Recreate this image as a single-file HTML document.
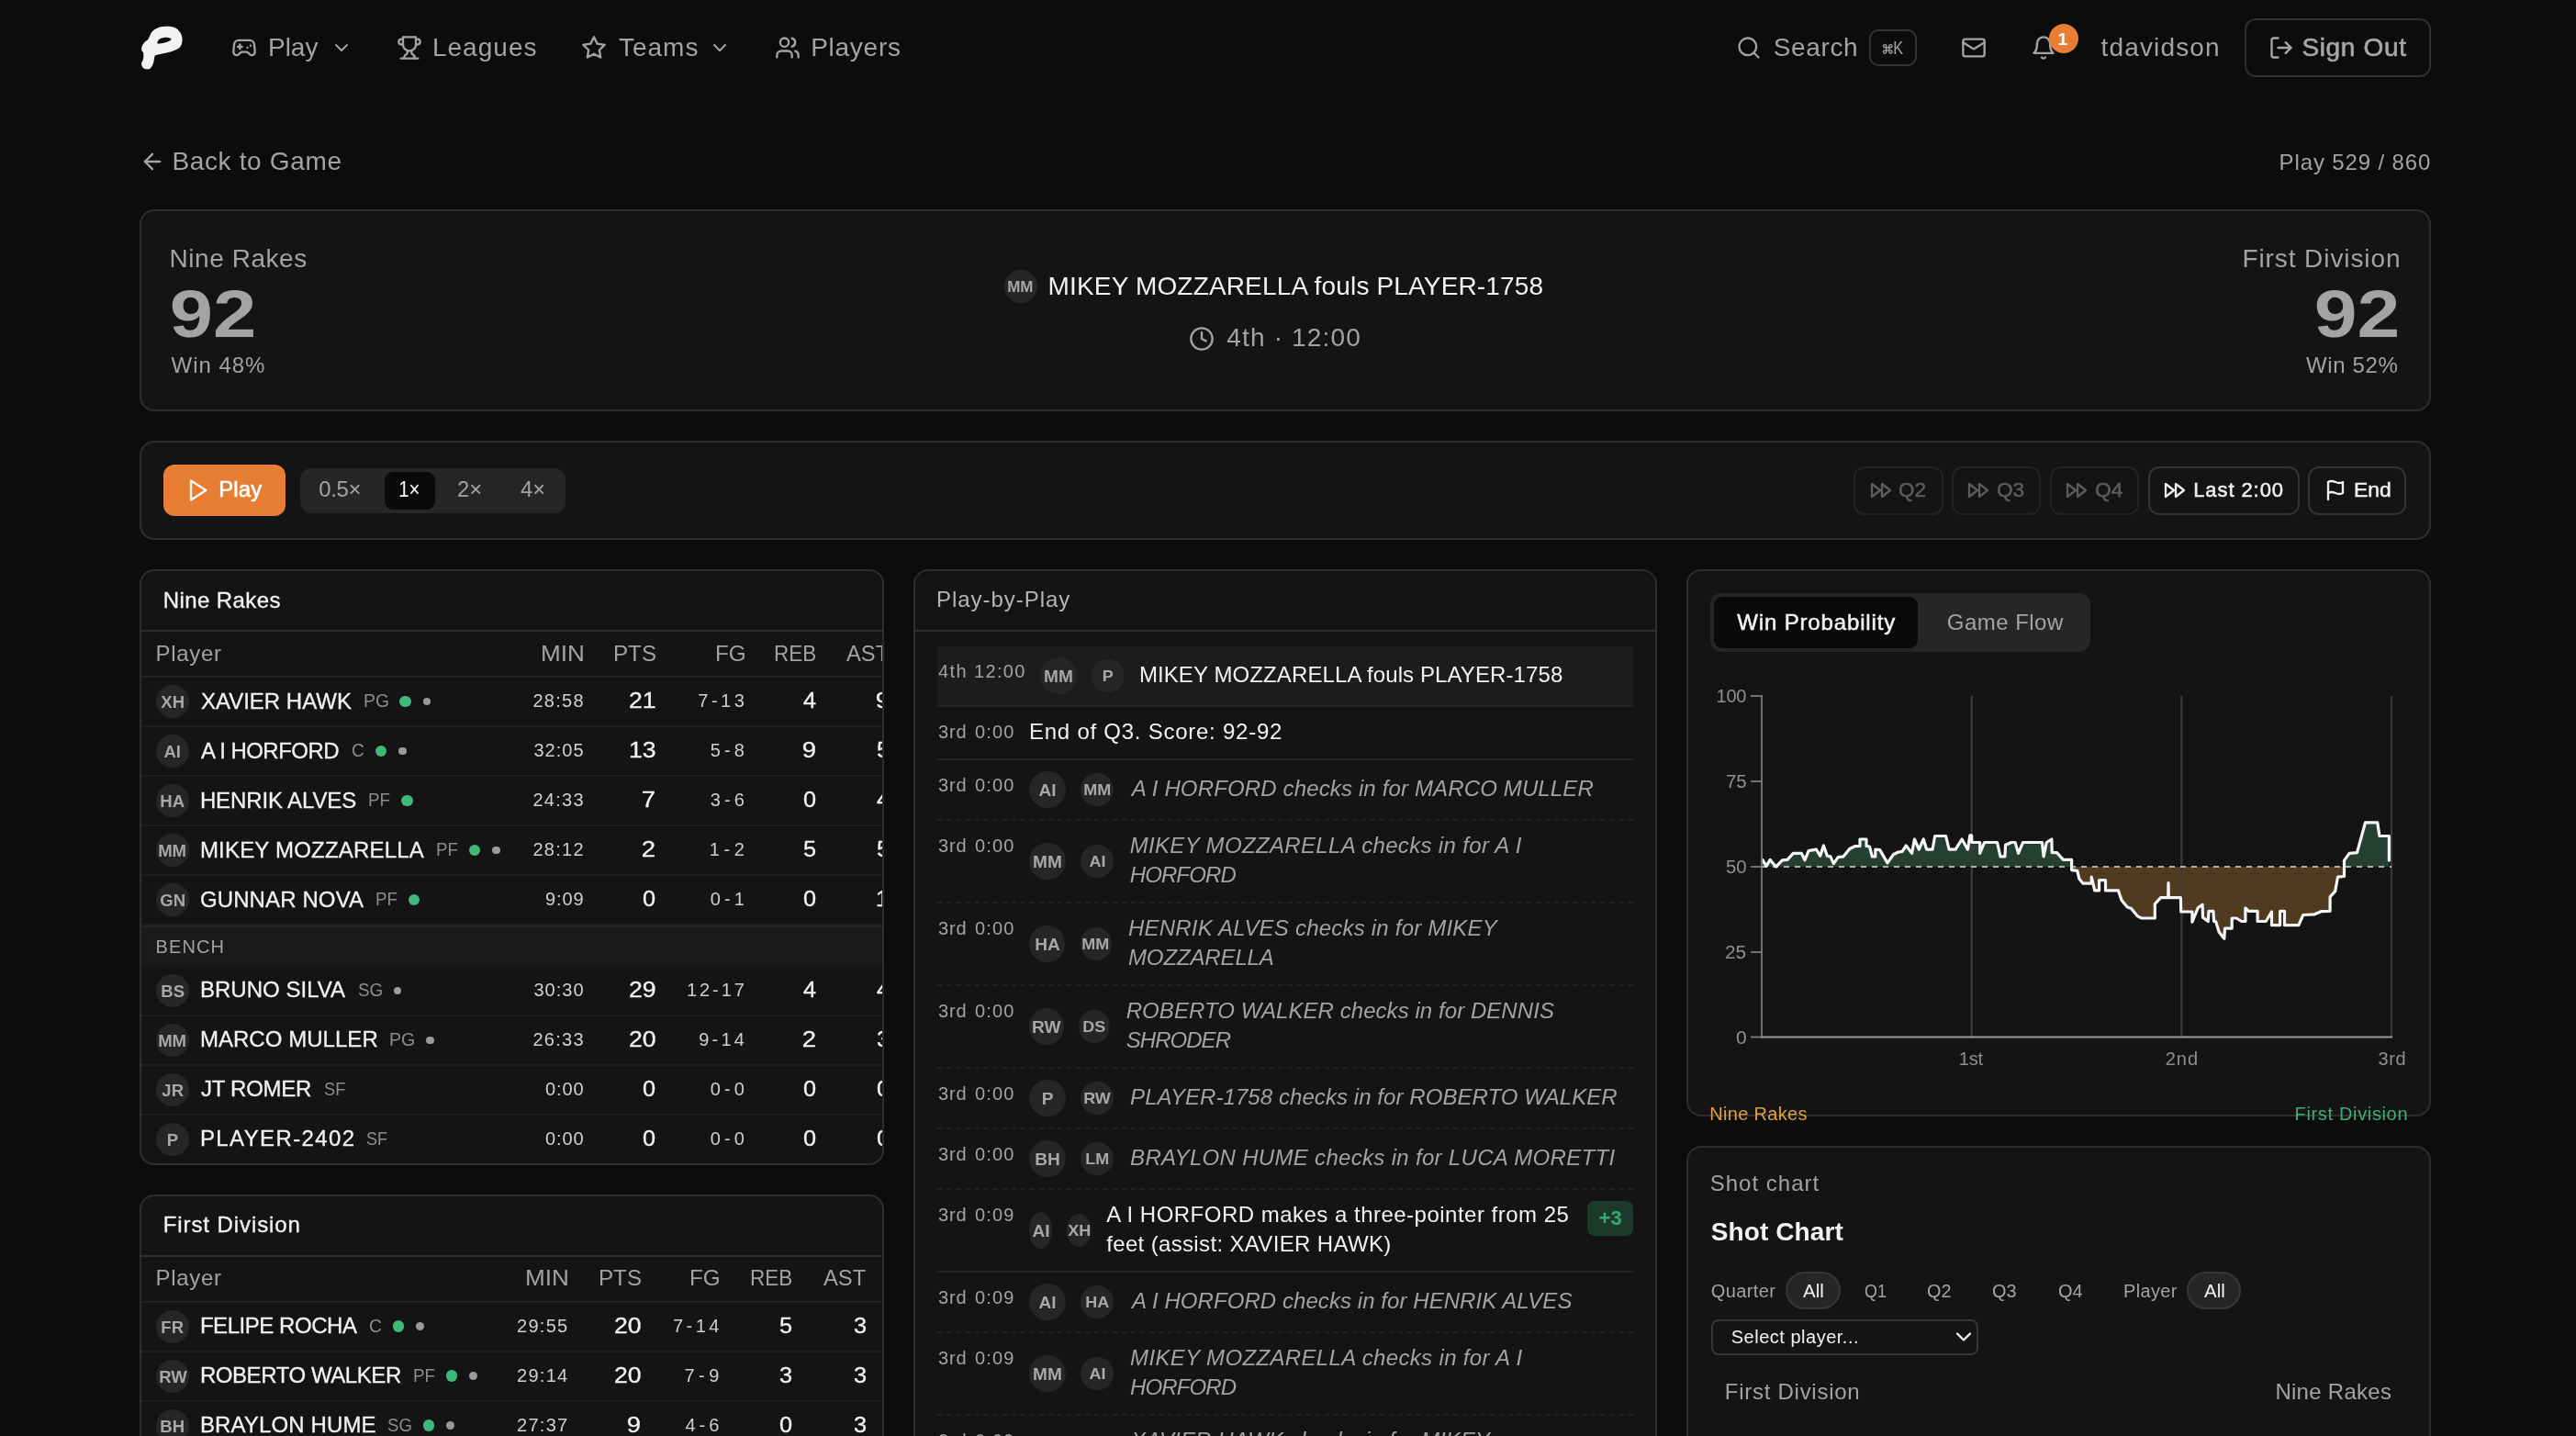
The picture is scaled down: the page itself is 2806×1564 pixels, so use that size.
<!DOCTYPE html>
<html><head><meta charset="utf-8"><title>Game Replay</title>
<style>
html,body{margin:0;padding:0;background:#0c0c0c;overflow:hidden;}
html{width:2806px;height:1564px;}
body{width:2806px;height:1564px;overflow:hidden;position:relative;font-family:"Liberation Sans", sans-serif;}
span,div{font-family:"Liberation Sans", sans-serif;}
@media (max-width:1500px){html{zoom:.5}}
</style></head><body><div style="position:absolute;left:0;top:0;width:2806px;height:1564px;overflow:hidden;will-change:transform"><svg style="position:absolute;left:140px;top:15px" width="260" height="80" viewBox="0 0 2576 793"><path fill="#f2f2f2" fill-rule="evenodd" d="M330 145 C370 132 460 130 500 150 C530 160 565 200 575 240 C585 280 580 330 555 360 C535 385 470 410 420 420 C380 430 320 440 285 450 C275 470 275 540 250 570 C240 590 225 598 215 598 C200 600 185 600 175 595 C160 590 148 575 145 565 C138 550 138 540 140 530 C145 515 158 500 160 480 C162 460 162 440 160 420 C150 410 140 400 140 390 C138 370 142 355 150 340 C160 320 170 310 180 300 C195 290 205 285 215 270 C225 250 230 235 240 215 C250 195 265 180 280 170 C295 158 315 150 330 145 Z M310 315 C312 295 325 278 340 270 C360 260 385 255 400 255 C425 255 450 260 460 270 C462 280 450 290 440 295 C420 305 400 310 380 315 C360 320 330 325 310 322 Z"/></svg><svg style="position:absolute;left:252.00px;top:38.00px" width="28" height="28" viewBox="0 0 24 24" fill="none" stroke="#a3a3a3" stroke-width="2" stroke-linecap="round" stroke-linejoin="round"><line x1="6" x2="10" y1="11" y2="11"/><line x1="8" x2="8" y1="9" y2="13"/><line x1="15" x2="15.01" y1="12" y2="12"/><line x1="18" x2="18.01" y1="10" y2="10"/><path d="M17.32 5H6.68a4 4 0 0 0-3.978 3.59c-.006.052-.01.101-.017.152C2.604 9.416 2 14.456 2 16a3 3 0 0 0 3 3c1 0 1.5-.5 2-1l1.414-1.414A2 2 0 0 1 9.828 16h4.344a2 2 0 0 1 1.414.586L17 18c.5.5 1 1 2 1a3 3 0 0 0 3-3c0-1.545-.604-6.584-.685-7.258-.007-.05-.011-.1-.017-.151A4 4 0 0 0 17.32 5z"/></svg><span style="position:absolute;top:38.10px;font-size:28px;line-height:28px;color:#a3a3a3;white-space:pre;letter-spacing:-0.023px;left:292.00px;">Play</span><svg style="position:absolute;left:360.00px;top:40.00px" width="24" height="24" viewBox="0 0 24 24" fill="none" stroke="#a3a3a3" stroke-width="2" stroke-linecap="round" stroke-linejoin="round"><path d="m6 9 6 6 6-6"/></svg><svg style="position:absolute;left:432.00px;top:38.00px" width="28" height="28" viewBox="0 0 24 24" fill="none" stroke="#a3a3a3" stroke-width="2" stroke-linecap="round" stroke-linejoin="round"><path d="M6 9H4.5a2.5 2.5 0 0 1 0-5H6"/><path d="M18 9h1.5a2.5 2.5 0 0 0 0-5H18"/><path d="M4 22h16"/><path d="M10 14.66V17c0 .55-.47.98-.97 1.21C7.85 18.75 7 20.24 7 22"/><path d="M14 14.66V17c0 .55.47.98.97 1.21C16.15 18.75 17 20.24 17 22"/><path d="M18 2H6v7a6 6 0 0 0 12 0V2Z"/></svg><span style="position:absolute;top:38.10px;font-size:28px;line-height:28px;color:#a3a3a3;white-space:pre;letter-spacing:1.028px;left:470.90px;">Leagues</span><svg style="position:absolute;left:633.30px;top:38.00px" width="28" height="28" viewBox="0 0 24 24" fill="none" stroke="#a3a3a3" stroke-width="2" stroke-linecap="round" stroke-linejoin="round"><polygon points="12 2 15.09 8.26 22 9.27 17 14.14 18.18 21.02 12 17.77 5.82 21.02 7 14.14 2 9.27 8.91 8.26 12 2"/></svg><span style="position:absolute;top:38.10px;font-size:28px;line-height:28px;color:#a3a3a3;white-space:pre;letter-spacing:1.008px;left:673.90px;">Teams</span><svg style="position:absolute;left:771.80px;top:40.00px" width="24" height="24" viewBox="0 0 24 24" fill="none" stroke="#a3a3a3" stroke-width="2" stroke-linecap="round" stroke-linejoin="round"><path d="m6 9 6 6 6-6"/></svg><svg style="position:absolute;left:844.40px;top:38.00px" width="28" height="28" viewBox="0 0 24 24" fill="none" stroke="#a3a3a3" stroke-width="2" stroke-linecap="round" stroke-linejoin="round"><path d="M16 21v-2a4 4 0 0 0-4-4H6a4 4 0 0 0-4 4v2"/><circle cx="9" cy="7" r="4"/><path d="M22 21v-2a4 4 0 0 0-3-3.87"/><path d="M16 3.13a4 4 0 0 1 0 7.75"/></svg><span style="position:absolute;top:38.10px;font-size:28px;line-height:28px;color:#a3a3a3;white-space:pre;letter-spacing:0.739px;left:883.20px;">Players</span><svg style="position:absolute;left:1891.10px;top:38.00px" width="28" height="28" viewBox="0 0 24 24" fill="none" stroke="#a3a3a3" stroke-width="2" stroke-linecap="round" stroke-linejoin="round"><circle cx="11" cy="11" r="8"/><path d="m21 21-4.3-4.3"/></svg><span style="position:absolute;top:38.10px;font-size:28px;line-height:28px;color:#a3a3a3;white-space:pre;letter-spacing:0.631px;left:1931.80px;">Search</span><div style="position:absolute;left:2036.40px;top:32.20px;width:51.40px;height:39.60px;box-sizing:border-box;border:2px solid #333;border-radius:10px;"></div><svg style="position:absolute;left:2049.6px;top:46.5px" width="12.6" height="12.6" viewBox="0 0 24 24" fill="none" stroke="#a3a3a3" stroke-width="2.6"><path d="M9 9V6a3 3 0 1 0-3 3h12a3 3 0 1 0-3-3v12a3 3 0 1 0 3-3H6a3 3 0 1 0 3 3z"/></svg><span style="position:absolute;top:42.47px;font-size:20px;line-height:20px;color:#a3a3a3;white-space:pre;transform:scaleX(0.8154);transform-origin:1.00px 0;left:2062.20px;">K</span><svg style="position:absolute;left:2136.00px;top:38.00px" width="28" height="28" viewBox="0 0 24 24" fill="none" stroke="#a3a3a3" stroke-width="2" stroke-linecap="round" stroke-linejoin="round"><rect width="20" height="16" x="2" y="4" rx="2"/><path d="m22 7-8.97 5.7a1.94 1.94 0 0 1-2.06 0L2 7"/></svg><svg style="position:absolute;left:2211.90px;top:38.00px" width="28" height="28" viewBox="0 0 24 24" fill="none" stroke="#a3a3a3" stroke-width="2" stroke-linecap="round" stroke-linejoin="round"><path d="M6 8a6 6 0 0 1 12 0c0 7 3 9 3 9H3s3-2 3-9"/><path d="M10.3 21a1.94 1.94 0 0 0 3.4 0"/></svg><div style="position:absolute;left:2232.20px;top:26.00px;width:32.20px;height:32.20px;box-sizing:border-box;background:#e87d34;border-radius:17px;"></div><span style="position:absolute;top:32.52px;font-size:19px;line-height:19px;color:#fff;white-space:pre;font-weight:700;left:2241.60px;">1</span><span style="position:absolute;top:38.10px;font-size:28px;line-height:28px;color:#a3a3a3;white-space:pre;letter-spacing:1.139px;left:2288.60px;">tdavidson</span><div style="position:absolute;left:2445.20px;top:20.00px;width:202.80px;height:64.00px;box-sizing:border-box;border:2px solid #303030;border-radius:12px;"></div><svg style="position:absolute;left:2471.30px;top:38.00px" width="28" height="28" viewBox="0 0 24 24" fill="none" stroke="#a8a8a8" stroke-width="2" stroke-linecap="round" stroke-linejoin="round"><path d="M9 21H5a2 2 0 0 1-2-2V5a2 2 0 0 1 2-2h4"/><polyline points="16 17 21 12 16 7"/><line x1="21" x2="9" y1="12" y2="12"/></svg><span style="position:absolute;top:38.10px;font-size:28px;line-height:28px;color:#a8a8a8;white-space:pre;-webkit-text-stroke:0.6px #a8a8a8;letter-spacing:0.661px;left:2507.40px;">Sign Out</span><svg style="position:absolute;left:151.60px;top:162.40px" width="28" height="28" viewBox="0 0 24 24" fill="none" stroke="#a3a3a3" stroke-width="2" stroke-linecap="round" stroke-linejoin="round"><path d="m12 19-7-7 7-7"/><path d="M19 12H5"/></svg><span style="position:absolute;top:162.20px;font-size:28px;line-height:28px;color:#a3a3a3;white-space:pre;letter-spacing:0.651px;left:187.40px;">Back to Game</span><span style="position:absolute;top:164.68px;font-size:24px;line-height:24px;color:#a3a3a3;white-space:pre;letter-spacing:0.869px;left:2482.60px;">Play 529 / 860</span><div style="position:absolute;left:152.00px;top:228.00px;width:2496.00px;height:220.00px;box-sizing:border-box;background:#141414;border:2px solid #2e2e2e;border-radius:16px;"></div><span style="position:absolute;top:268.30px;font-size:28px;line-height:28px;color:#a3a3a3;white-space:pre;letter-spacing:0.541px;left:184.60px;">Nine Rakes</span><span style="position:absolute;top:306.05px;font-size:72px;line-height:72px;color:#a3a3a3;white-space:pre;font-weight:700;transform:scaleX(1.1796);transform-origin:2.00px 0;left:184.60px;">92</span><span style="position:absolute;top:385.68px;font-size:24px;line-height:24px;color:#a3a3a3;white-space:pre;letter-spacing:0.951px;left:186.60px;">Win 48%</span><div style="position:absolute;left:1093.80px;top:294.00px;width:36px;height:36px;border-radius:50%;background:#262626;color:#a8a8a8;font-weight:700;font-size:16px;line-height:38px;display:flex;justify-content:center;white-space:nowrap"><span style="display:inline-block;transform:scaleX(1.06)">MM</span></div><span style="position:absolute;top:298.30px;font-size:28px;line-height:28px;color:#f2f2f2;white-space:pre;letter-spacing:0.158px;left:1141.60px;">MIKEY MOZZARELLA fouls PLAYER-1758</span><svg style="position:absolute;left:1294.60px;top:354.50px" width="28" height="28" viewBox="0 0 24 24" fill="none" stroke="#a3a3a3" stroke-width="2" stroke-linecap="round" stroke-linejoin="round"><circle cx="12" cy="12" r="10"/><polyline points="12 6 12 12 16 14"/></svg><span style="position:absolute;top:354.30px;font-size:28px;line-height:28px;color:#a3a3a3;white-space:pre;letter-spacing:1.170px;left:1336.30px;">4th · 12:00</span><span style="position:absolute;top:268.30px;font-size:28px;line-height:28px;color:#a3a3a3;white-space:pre;letter-spacing:0.918px;left:2442.40px;">First Division</span><span style="position:absolute;top:306.05px;font-size:72px;line-height:72px;color:#a3a3a3;white-space:pre;font-weight:700;transform:scaleX(1.1678);transform-origin:2.00px 0;left:2520.80px;">92</span><span style="position:absolute;top:385.68px;font-size:24px;line-height:24px;color:#a3a3a3;white-space:pre;letter-spacing:0.651px;left:2512.00px;">Win 52%</span><div style="position:absolute;left:152.00px;top:480.00px;width:2496.00px;height:108.00px;box-sizing:border-box;background:#141414;border:2px solid #2e2e2e;border-radius:16px;"></div><div style="position:absolute;left:178.00px;top:506.00px;width:133.00px;height:56.00px;box-sizing:border-box;background:#e87d34;border-radius:12px;"></div><svg style="position:absolute;left:200.80px;top:520.20px" width="28" height="28" viewBox="0 0 24 24" fill="none" stroke="#fff" stroke-width="2" stroke-linecap="round" stroke-linejoin="round"><polygon points="6 3 20 12 6 21 6 3"/></svg><span style="position:absolute;top:521.48px;font-size:24px;line-height:24px;color:#fff;white-space:pre;-webkit-text-stroke:0.6px #fff;letter-spacing:0.104px;left:238.20px;">Play</span><div style="position:absolute;left:327.00px;top:510.00px;width:289.00px;height:49.00px;box-sizing:border-box;background:#262626;border-radius:12px;"></div><div style="position:absolute;left:419.00px;top:514.20px;width:55.00px;height:40.60px;box-sizing:border-box;background:#0a0a0a;border-radius:9px;"></div><span style="position:absolute;top:521.48px;font-size:24px;line-height:24px;color:#a3a3a3;white-space:pre;letter-spacing:-0.388px;left:347.30px;">0.5×</span><span style="position:absolute;top:521.48px;font-size:24px;line-height:24px;color:#fff;white-space:pre;transform:scaleX(0.8482);transform-origin:1.00px 0;left:433.80px;">1×</span><span style="position:absolute;top:521.48px;font-size:24px;line-height:24px;color:#a3a3a3;white-space:pre;transform:scaleX(0.9942);transform-origin:1.00px 0;left:498.10px;">2×</span><span style="position:absolute;top:521.48px;font-size:24px;line-height:24px;color:#a3a3a3;white-space:pre;transform:scaleX(0.9906);transform-origin:0.00px 0;left:567.10px;">4×</span><div style="position:absolute;left:2019.20px;top:508.20px;width:97.40px;height:52.40px;box-sizing:border-box;border:2px solid #232323;border-radius:12px;"></div><svg style="position:absolute;left:2037.00px;top:522.40px" width="24" height="24" viewBox="0 0 24 24" fill="none" stroke="#5c5c5c" stroke-width="2.3" stroke-linecap="round" stroke-linejoin="round"><polygon points="13 19 22 12 13 5 13 19"/><polygon points="2 19 11 12 2 5 2 19"/></svg><span style="position:absolute;top:523.38px;font-size:22px;line-height:22px;color:#5c5c5c;white-space:pre;-webkit-text-stroke:0.5px #5c5c5c;transform:scaleX(1.0209);transform-origin:1.00px 0;left:2068.20px;">Q2</span><div style="position:absolute;left:2125.50px;top:508.20px;width:97.90px;height:52.40px;box-sizing:border-box;border:2px solid #232323;border-radius:12px;"></div><svg style="position:absolute;left:2143.00px;top:522.40px" width="24" height="24" viewBox="0 0 24 24" fill="none" stroke="#5c5c5c" stroke-width="2.3" stroke-linecap="round" stroke-linejoin="round"><polygon points="13 19 22 12 13 5 13 19"/><polygon points="2 19 11 12 2 5 2 19"/></svg><span style="position:absolute;top:523.38px;font-size:22px;line-height:22px;color:#5c5c5c;white-space:pre;-webkit-text-stroke:0.5px #5c5c5c;transform:scaleX(1.0316);transform-origin:1.00px 0;left:2175.00px;">Q3</span><div style="position:absolute;left:2232.60px;top:508.20px;width:97.90px;height:52.40px;box-sizing:border-box;border:2px solid #232323;border-radius:12px;"></div><svg style="position:absolute;left:2250.00px;top:522.40px" width="24" height="24" viewBox="0 0 24 24" fill="none" stroke="#5c5c5c" stroke-width="2.3" stroke-linecap="round" stroke-linejoin="round"><polygon points="13 19 22 12 13 5 13 19"/><polygon points="2 19 11 12 2 5 2 19"/></svg><span style="position:absolute;top:523.38px;font-size:22px;line-height:22px;color:#5c5c5c;white-space:pre;-webkit-text-stroke:0.5px #5c5c5c;transform:scaleX(1.0458);transform-origin:1.00px 0;left:2281.60px;">Q4</span><div style="position:absolute;left:2339.50px;top:508.20px;width:165.70px;height:52.40px;box-sizing:border-box;border:2px solid #333;border-radius:12px;"></div><svg style="position:absolute;left:2356.80px;top:522.40px" width="24" height="24" viewBox="0 0 24 24" fill="none" stroke="#f0f0f0" stroke-width="2.3" stroke-linecap="round" stroke-linejoin="round"><polygon points="13 19 22 12 13 5 13 19"/><polygon points="2 19 11 12 2 5 2 19"/></svg><span style="position:absolute;top:523.38px;font-size:22px;line-height:22px;color:#f0f0f0;white-space:pre;-webkit-text-stroke:0.5px #f0f0f0;letter-spacing:0.915px;left:2389.20px;">Last 2:00</span><div style="position:absolute;left:2514.20px;top:508.20px;width:107.10px;height:52.40px;box-sizing:border-box;border:2px solid #333;border-radius:12px;"></div><svg style="position:absolute;left:2531.80px;top:522.40px" width="24" height="24" viewBox="0 0 24 24" fill="none" stroke="#f0f0f0" stroke-width="2.3" stroke-linecap="round" stroke-linejoin="round"><path d="M4 15s1-1 4-1 5 2 8 2 4-1 4-1V3s-1 1-4 1-5-2-8-2-4 1-4 1z"/><line x1="4" x2="4" y1="22" y2="15"/></svg><span style="position:absolute;top:523.38px;font-size:22px;line-height:22px;color:#f0f0f0;white-space:pre;-webkit-text-stroke:0.5px #f0f0f0;transform:scaleX(1.0404);transform-origin:1.00px 0;left:2564.00px;">End</span><div style="position:absolute;left:152px;top:620px;width:810.67px;height:648.5px;box-sizing:border-box;background:#141414;border:2px solid #2e2e2e;border-radius:16px;overflow:hidden"><div style="position:absolute;left:-2px;top:-2px;width:812px;height:648.5px"><span style="position:absolute;top:21.88px;font-size:24px;line-height:24px;color:#f2f2f2;white-space:pre;-webkit-text-stroke:0.35px #f2f2f2;letter-spacing:0.416px;left:25.70px;">Nine Rakes</span><div style="position:absolute;left:0.00px;top:66.00px;width:812.00px;height:2.00px;box-sizing:border-box;background:#2e2e2e;"></div><span style="position:absolute;top:79.68px;font-size:24px;line-height:24px;color:#a3a3a3;white-space:pre;letter-spacing:0.673px;left:17.60px;">Player</span><span style="position:absolute;top:79.68px;font-size:24px;line-height:24px;color:#a3a3a3;white-space:pre;transform:scaleX(1.0874);transform-origin:1.00px 0;left:437.10px;">MIN</span><span style="position:absolute;top:79.68px;font-size:24px;line-height:24px;color:#a3a3a3;white-space:pre;transform:scaleX(1.0074);transform-origin:1.00px 0;left:515.60px;">PTS</span><span style="position:absolute;top:79.68px;font-size:24px;line-height:24px;color:#a3a3a3;white-space:pre;transform:scaleX(1.0111);transform-origin:1.00px 0;left:626.70px;">FG</span><span style="position:absolute;top:79.68px;font-size:24px;line-height:24px;color:#a3a3a3;white-space:pre;transform:scaleX(0.9379);transform-origin:1.00px 0;left:691.00px;">REB</span><span style="position:absolute;top:79.68px;font-size:24px;line-height:24px;color:#a3a3a3;white-space:pre;transform:scaleX(0.9890);transform-origin:0.00px 0;left:770.30px;">AST</span><div style="position:absolute;left:0.00px;top:116.00px;width:812.00px;height:2.00px;box-sizing:border-box;background:#222222;"></div><div style="position:absolute;left:18.00px;top:126.00px;width:36px;height:36px;border-radius:50%;background:#262626;color:#a8a8a8;font-weight:700;font-size:17.5px;line-height:38px;display:flex;justify-content:center;white-space:nowrap"><span style="display:inline-block;transform:scaleX(1.06)">XH</span></div><span style="position:absolute;top:131.68px;font-size:24px;line-height:24px;color:#f2f2f2;white-space:pre;-webkit-text-stroke:0.3px #f2f2f2;letter-spacing:0.008px;left:66.90px;">XAVIER HAWK</span><span style="position:absolute;top:133.07px;font-size:20px;line-height:20px;color:#8c8c8c;white-space:pre;transform:scaleX(0.9656);transform-origin:1.00px 0;left:243.60px;">PG</span><div style="position:absolute;left:283.40px;top:137.80px;width:12.40px;height:12.40px;box-sizing:border-box;background:#3fb97a;border-radius:7px;"></div><div style="position:absolute;left:308.80px;top:139.70px;width:8.60px;height:8.60px;box-sizing:border-box;background:#9a9a9a;border-radius:5px;"></div><span style="position:absolute;top:133.47px;font-size:20px;line-height:20px;color:#d0d0d0;white-space:pre;letter-spacing:1.244px;left:428.50px;">28:58</span><span style="position:absolute;top:131.38px;font-size:24px;line-height:24px;color:#f2f2f2;white-space:pre;-webkit-text-stroke:0.3px #f2f2f2;transform:scaleX(1.1086);transform-origin:1.00px 0;left:532.50px;">21</span><span style="position:absolute;top:133.47px;font-size:20px;line-height:20px;color:#d0d0d0;white-space:pre;letter-spacing:3.481px;left:608.35px;">7-13</span><span style="position:absolute;top:131.38px;font-size:24px;line-height:24px;color:#f2f2f2;white-space:pre;-webkit-text-stroke:0.3px #f2f2f2;transform:scaleX(1.0538);transform-origin:0.00px 0;left:722.70px;">4</span><span style="position:absolute;top:131.38px;font-size:24px;line-height:24px;color:#f2f2f2;white-space:pre;-webkit-text-stroke:0.3px #f2f2f2;transform:scaleX(1.1417);transform-origin:1.00px 0;left:802.10px;">9</span><div style="position:absolute;left:0.00px;top:170.00px;width:812.00px;height:2.00px;box-sizing:border-box;background:#1e1e1e;"></div><div style="position:absolute;left:18.00px;top:180.00px;width:36px;height:36px;border-radius:50%;background:#262626;color:#a8a8a8;font-weight:700;font-size:17.5px;line-height:38px;display:flex;justify-content:center;white-space:nowrap"><span style="display:inline-block;transform:scaleX(1.06)">AI</span></div><span style="position:absolute;top:185.68px;font-size:24px;line-height:24px;color:#f2f2f2;white-space:pre;-webkit-text-stroke:0.3px #f2f2f2;letter-spacing:-0.540px;left:66.90px;">A I HORFORD</span><span style="position:absolute;top:187.07px;font-size:20px;line-height:20px;color:#8c8c8c;white-space:pre;transform:scaleX(0.9538);transform-origin:1.00px 0;left:231.10px;">C</span><div style="position:absolute;left:256.90px;top:191.80px;width:12.40px;height:12.40px;box-sizing:border-box;background:#3fb97a;border-radius:7px;"></div><div style="position:absolute;left:282.30px;top:193.70px;width:8.60px;height:8.60px;box-sizing:border-box;background:#9a9a9a;border-radius:5px;"></div><span style="position:absolute;top:187.47px;font-size:20px;line-height:20px;color:#d0d0d0;white-space:pre;letter-spacing:0.994px;left:429.50px;">32:05</span><span style="position:absolute;top:185.38px;font-size:24px;line-height:24px;color:#f2f2f2;white-space:pre;-webkit-text-stroke:0.3px #f2f2f2;transform:scaleX(1.1086);transform-origin:1.00px 0;left:532.50px;">13</span><span style="position:absolute;top:187.47px;font-size:20px;line-height:20px;color:#d0d0d0;white-space:pre;letter-spacing:4.058px;left:621.80px;">5-8</span><span style="position:absolute;top:185.38px;font-size:24px;line-height:24px;color:#f2f2f2;white-space:pre;-webkit-text-stroke:0.3px #f2f2f2;transform:scaleX(1.1417);transform-origin:1.00px 0;left:721.70px;">9</span><span style="position:absolute;top:185.38px;font-size:24px;line-height:24px;color:#f2f2f2;white-space:pre;-webkit-text-stroke:0.3px #f2f2f2;transform:scaleX(1.0538);transform-origin:0.00px 0;left:803.10px;">5</span><div style="position:absolute;left:0.00px;top:224.00px;width:812.00px;height:2.00px;box-sizing:border-box;background:#1e1e1e;"></div><div style="position:absolute;left:18.00px;top:234.00px;width:36px;height:36px;border-radius:50%;background:#262626;color:#a8a8a8;font-weight:700;font-size:17.5px;line-height:38px;display:flex;justify-content:center;white-space:nowrap"><span style="display:inline-block;transform:scaleX(1.06)">HA</span></div><span style="position:absolute;top:239.68px;font-size:24px;line-height:24px;color:#f2f2f2;white-space:pre;-webkit-text-stroke:0.3px #f2f2f2;letter-spacing:-0.122px;left:65.90px;">HENRIK ALVES</span><span style="position:absolute;top:241.07px;font-size:20px;line-height:20px;color:#8c8c8c;white-space:pre;transform:scaleX(0.9367);transform-origin:1.00px 0;left:249.10px;">PF</span><div style="position:absolute;left:285.30px;top:245.80px;width:12.40px;height:12.40px;box-sizing:border-box;background:#3fb97a;border-radius:7px;"></div><span style="position:absolute;top:241.47px;font-size:20px;line-height:20px;color:#d0d0d0;white-space:pre;letter-spacing:1.244px;left:428.50px;">24:33</span><span style="position:absolute;top:239.38px;font-size:24px;line-height:24px;color:#f2f2f2;white-space:pre;-webkit-text-stroke:0.3px #f2f2f2;transform:scaleX(1.1417);transform-origin:1.00px 0;left:546.90px;">7</span><span style="position:absolute;top:241.47px;font-size:20px;line-height:20px;color:#d0d0d0;white-space:pre;letter-spacing:4.058px;left:621.80px;">3-6</span><span style="position:absolute;top:239.38px;font-size:24px;line-height:24px;color:#f2f2f2;white-space:pre;-webkit-text-stroke:0.3px #f2f2f2;transform:scaleX(1.0538);transform-origin:0.00px 0;left:722.70px;">0</span><span style="position:absolute;top:239.38px;font-size:24px;line-height:24px;color:#f2f2f2;white-space:pre;-webkit-text-stroke:0.3px #f2f2f2;transform:scaleX(1.0538);transform-origin:0.00px 0;left:803.10px;">4</span><div style="position:absolute;left:0.00px;top:278.00px;width:812.00px;height:2.00px;box-sizing:border-box;background:#1e1e1e;"></div><div style="position:absolute;left:18.00px;top:288.00px;width:36px;height:36px;border-radius:50%;background:#262626;color:#a8a8a8;font-weight:700;font-size:17.5px;line-height:38px;display:flex;justify-content:center;white-space:nowrap"><span style="display:inline-block;transform:scaleX(1.06)">MM</span></div><span style="position:absolute;top:293.68px;font-size:24px;line-height:24px;color:#f2f2f2;white-space:pre;-webkit-text-stroke:0.3px #f2f2f2;letter-spacing:0.195px;left:65.90px;">MIKEY MOZZARELLA</span><span style="position:absolute;top:295.07px;font-size:20px;line-height:20px;color:#8c8c8c;white-space:pre;transform:scaleX(0.9367);transform-origin:1.00px 0;left:322.80px;">PF</span><div style="position:absolute;left:359.00px;top:299.80px;width:12.40px;height:12.40px;box-sizing:border-box;background:#3fb97a;border-radius:7px;"></div><div style="position:absolute;left:384.40px;top:301.70px;width:8.60px;height:8.60px;box-sizing:border-box;background:#9a9a9a;border-radius:5px;"></div><span style="position:absolute;top:295.47px;font-size:20px;line-height:20px;color:#d0d0d0;white-space:pre;letter-spacing:1.244px;left:428.50px;">28:12</span><span style="position:absolute;top:293.38px;font-size:24px;line-height:24px;color:#f2f2f2;white-space:pre;-webkit-text-stroke:0.3px #f2f2f2;transform:scaleX(1.1417);transform-origin:1.00px 0;left:546.90px;">2</span><span style="position:absolute;top:295.47px;font-size:20px;line-height:20px;color:#d0d0d0;white-space:pre;letter-spacing:4.558px;left:620.80px;">1-2</span><span style="position:absolute;top:293.38px;font-size:24px;line-height:24px;color:#f2f2f2;white-space:pre;-webkit-text-stroke:0.3px #f2f2f2;transform:scaleX(1.0538);transform-origin:0.00px 0;left:722.70px;">5</span><span style="position:absolute;top:293.38px;font-size:24px;line-height:24px;color:#f2f2f2;white-space:pre;-webkit-text-stroke:0.3px #f2f2f2;transform:scaleX(1.0538);transform-origin:0.00px 0;left:803.10px;">5</span><div style="position:absolute;left:0.00px;top:332.00px;width:812.00px;height:2.00px;box-sizing:border-box;background:#1e1e1e;"></div><div style="position:absolute;left:18.00px;top:342.00px;width:36px;height:36px;border-radius:50%;background:#262626;color:#a8a8a8;font-weight:700;font-size:17.5px;line-height:38px;display:flex;justify-content:center;white-space:nowrap"><span style="display:inline-block;transform:scaleX(1.06)">GN</span></div><span style="position:absolute;top:347.68px;font-size:24px;line-height:24px;color:#f2f2f2;white-space:pre;-webkit-text-stroke:0.3px #f2f2f2;letter-spacing:0.120px;left:65.90px;">GUNNAR NOVA</span><span style="position:absolute;top:349.07px;font-size:20px;line-height:20px;color:#8c8c8c;white-space:pre;transform:scaleX(0.9367);transform-origin:1.00px 0;left:256.60px;">PF</span><div style="position:absolute;left:292.80px;top:353.80px;width:12.40px;height:12.40px;box-sizing:border-box;background:#3fb97a;border-radius:7px;"></div><span style="position:absolute;top:349.47px;font-size:20px;line-height:20px;color:#d0d0d0;white-space:pre;letter-spacing:0.882px;left:441.95px;">9:09</span><span style="position:absolute;top:347.38px;font-size:24px;line-height:24px;color:#f2f2f2;white-space:pre;-webkit-text-stroke:0.3px #f2f2f2;transform:scaleX(1.0538);transform-origin:0.00px 0;left:547.90px;">0</span><span style="position:absolute;top:349.47px;font-size:20px;line-height:20px;color:#d0d0d0;white-space:pre;letter-spacing:4.058px;left:621.80px;">0-1</span><span style="position:absolute;top:347.38px;font-size:24px;line-height:24px;color:#f2f2f2;white-space:pre;-webkit-text-stroke:0.3px #f2f2f2;transform:scaleX(1.0538);transform-origin:0.00px 0;left:722.70px;">0</span><span style="position:absolute;top:347.38px;font-size:24px;line-height:24px;color:#f2f2f2;white-space:pre;-webkit-text-stroke:0.3px #f2f2f2;transform:scaleX(1.1417);transform-origin:1.00px 0;left:802.10px;">1</span><div style="position:absolute;left:0.00px;top:386.00px;width:812.00px;height:2.00px;box-sizing:border-box;background:#1e1e1e;"></div><div style="position:absolute;left:0.00px;top:388.00px;width:812.00px;height:2.00px;box-sizing:border-box;background:#242424;"></div><div style="position:absolute;left:0.00px;top:390.00px;width:812.00px;height:42.80px;box-sizing:border-box;background:#1a1a1a;"></div><span style="position:absolute;top:401.07px;font-size:20px;line-height:20px;color:#a3a3a3;white-space:pre;letter-spacing:1.108px;left:17.60px;">BENCH</span><div style="position:absolute;left:18.00px;top:440.80px;width:36px;height:36px;border-radius:50%;background:#262626;color:#a8a8a8;font-weight:700;font-size:17.5px;line-height:38px;display:flex;justify-content:center;white-space:nowrap"><span style="display:inline-block;transform:scaleX(1.06)">BS</span></div><span style="position:absolute;top:446.48px;font-size:24px;line-height:24px;color:#f2f2f2;white-space:pre;-webkit-text-stroke:0.3px #f2f2f2;letter-spacing:0.029px;left:65.90px;">BRUNO SILVA</span><span style="position:absolute;top:447.87px;font-size:20px;line-height:20px;color:#8c8c8c;white-space:pre;transform:scaleX(0.9421);transform-origin:0.00px 0;left:237.60px;">SG</span><div style="position:absolute;left:276.70px;top:454.50px;width:8.60px;height:8.60px;box-sizing:border-box;background:#9a9a9a;border-radius:5px;"></div><span style="position:absolute;top:448.27px;font-size:20px;line-height:20px;color:#d0d0d0;white-space:pre;letter-spacing:0.994px;left:429.50px;">30:30</span><span style="position:absolute;top:446.18px;font-size:24px;line-height:24px;color:#f2f2f2;white-space:pre;-webkit-text-stroke:0.3px #f2f2f2;transform:scaleX(1.1086);transform-origin:1.00px 0;left:532.50px;">29</span><span style="position:absolute;top:448.27px;font-size:20px;line-height:20px;color:#d0d0d0;white-space:pre;letter-spacing:2.943px;left:595.90px;">12-17</span><span style="position:absolute;top:446.18px;font-size:24px;line-height:24px;color:#f2f2f2;white-space:pre;-webkit-text-stroke:0.3px #f2f2f2;transform:scaleX(1.0538);transform-origin:0.00px 0;left:722.70px;">4</span><span style="position:absolute;top:446.18px;font-size:24px;line-height:24px;color:#f2f2f2;white-space:pre;-webkit-text-stroke:0.3px #f2f2f2;transform:scaleX(1.0538);transform-origin:0.00px 0;left:803.10px;">4</span><div style="position:absolute;left:0.00px;top:484.80px;width:812.00px;height:2.00px;box-sizing:border-box;background:#1e1e1e;"></div><div style="position:absolute;left:18.00px;top:494.80px;width:36px;height:36px;border-radius:50%;background:#262626;color:#a8a8a8;font-weight:700;font-size:17.5px;line-height:38px;display:flex;justify-content:center;white-space:nowrap"><span style="display:inline-block;transform:scaleX(1.06)">MM</span></div><span style="position:absolute;top:500.48px;font-size:24px;line-height:24px;color:#f2f2f2;white-space:pre;-webkit-text-stroke:0.3px #f2f2f2;letter-spacing:0.043px;left:65.90px;">MARCO MULLER</span><span style="position:absolute;top:501.87px;font-size:20px;line-height:20px;color:#8c8c8c;white-space:pre;transform:scaleX(0.9766);transform-origin:1.00px 0;left:272.00px;">PG</span><div style="position:absolute;left:312.10px;top:508.50px;width:8.60px;height:8.60px;box-sizing:border-box;background:#9a9a9a;border-radius:5px;"></div><span style="position:absolute;top:502.27px;font-size:20px;line-height:20px;color:#d0d0d0;white-space:pre;letter-spacing:1.244px;left:428.50px;">26:33</span><span style="position:absolute;top:500.18px;font-size:24px;line-height:24px;color:#f2f2f2;white-space:pre;-webkit-text-stroke:0.3px #f2f2f2;transform:scaleX(1.1086);transform-origin:1.00px 0;left:532.50px;">20</span><span style="position:absolute;top:502.27px;font-size:20px;line-height:20px;color:#d0d0d0;white-space:pre;letter-spacing:3.148px;left:609.35px;">9-14</span><span style="position:absolute;top:500.18px;font-size:24px;line-height:24px;color:#f2f2f2;white-space:pre;-webkit-text-stroke:0.3px #f2f2f2;transform:scaleX(1.1417);transform-origin:1.00px 0;left:721.70px;">2</span><span style="position:absolute;top:500.18px;font-size:24px;line-height:24px;color:#f2f2f2;white-space:pre;-webkit-text-stroke:0.3px #f2f2f2;transform:scaleX(1.0538);transform-origin:0.00px 0;left:803.10px;">3</span><div style="position:absolute;left:0.00px;top:538.80px;width:812.00px;height:2.00px;box-sizing:border-box;background:#1e1e1e;"></div><div style="position:absolute;left:18.00px;top:548.80px;width:36px;height:36px;border-radius:50%;background:#262626;color:#a8a8a8;font-weight:700;font-size:17.5px;line-height:38px;display:flex;justify-content:center;white-space:nowrap"><span style="display:inline-block;transform:scaleX(1.06)">JR</span></div><span style="position:absolute;top:554.48px;font-size:24px;line-height:24px;color:#f2f2f2;white-space:pre;-webkit-text-stroke:0.3px #f2f2f2;letter-spacing:-0.247px;left:66.90px;">JT ROMER</span><span style="position:absolute;top:555.87px;font-size:20px;line-height:20px;color:#8c8c8c;white-space:pre;transform:scaleX(0.9116);transform-origin:0.00px 0;left:201.10px;">SF</span><span style="position:absolute;top:556.27px;font-size:20px;line-height:20px;color:#d0d0d0;white-space:pre;letter-spacing:0.882px;left:441.95px;">0:00</span><span style="position:absolute;top:554.18px;font-size:24px;line-height:24px;color:#f2f2f2;white-space:pre;-webkit-text-stroke:0.3px #f2f2f2;transform:scaleX(1.0538);transform-origin:0.00px 0;left:547.90px;">0</span><span style="position:absolute;top:556.27px;font-size:20px;line-height:20px;color:#d0d0d0;white-space:pre;letter-spacing:4.058px;left:621.80px;">0-0</span><span style="position:absolute;top:554.18px;font-size:24px;line-height:24px;color:#f2f2f2;white-space:pre;-webkit-text-stroke:0.3px #f2f2f2;transform:scaleX(1.0538);transform-origin:0.00px 0;left:722.70px;">0</span><span style="position:absolute;top:554.18px;font-size:24px;line-height:24px;color:#f2f2f2;white-space:pre;-webkit-text-stroke:0.3px #f2f2f2;transform:scaleX(1.0538);transform-origin:0.00px 0;left:803.10px;">0</span><div style="position:absolute;left:0.00px;top:592.80px;width:812.00px;height:2.00px;box-sizing:border-box;background:#1e1e1e;"></div><div style="position:absolute;left:18.00px;top:602.80px;width:36px;height:36px;border-radius:50%;background:#262626;color:#a8a8a8;font-weight:700;font-size:17.5px;line-height:38px;display:flex;justify-content:center;white-space:nowrap"><span style="display:inline-block;transform:scaleX(1.06)">P</span></div><span style="position:absolute;top:608.48px;font-size:24px;line-height:24px;color:#f2f2f2;white-space:pre;-webkit-text-stroke:0.3px #f2f2f2;letter-spacing:1.394px;left:65.90px;">PLAYER-2402</span><span style="position:absolute;top:609.87px;font-size:20px;line-height:20px;color:#8c8c8c;white-space:pre;transform:scaleX(0.8998);transform-origin:0.00px 0;left:247.40px;">SF</span><span style="position:absolute;top:610.27px;font-size:20px;line-height:20px;color:#d0d0d0;white-space:pre;letter-spacing:0.882px;left:441.95px;">0:00</span><span style="position:absolute;top:608.18px;font-size:24px;line-height:24px;color:#f2f2f2;white-space:pre;-webkit-text-stroke:0.3px #f2f2f2;transform:scaleX(1.0538);transform-origin:0.00px 0;left:547.90px;">0</span><span style="position:absolute;top:610.27px;font-size:20px;line-height:20px;color:#d0d0d0;white-space:pre;letter-spacing:4.058px;left:621.80px;">0-0</span><span style="position:absolute;top:608.18px;font-size:24px;line-height:24px;color:#f2f2f2;white-space:pre;-webkit-text-stroke:0.3px #f2f2f2;transform:scaleX(1.0538);transform-origin:0.00px 0;left:722.70px;">0</span><span style="position:absolute;top:608.18px;font-size:24px;line-height:24px;color:#f2f2f2;white-space:pre;-webkit-text-stroke:0.3px #f2f2f2;transform:scaleX(1.0538);transform-origin:0.00px 0;left:803.10px;">0</span><div style="position:absolute;left:0.00px;top:646.80px;width:812.00px;height:2.00px;box-sizing:border-box;background:#1e1e1e;"></div></div></div><div style="position:absolute;left:152px;top:1300.5px;width:810.67px;height:400px;box-sizing:border-box;background:#141414;border:2px solid #2e2e2e;border-radius:16px;overflow:hidden"><div style="position:absolute;left:-2px;top:-2px;width:812px;height:400px"><span style="position:absolute;top:21.88px;font-size:24px;line-height:24px;color:#f2f2f2;white-space:pre;-webkit-text-stroke:0.35px #f2f2f2;letter-spacing:0.916px;left:25.70px;">First Division</span><div style="position:absolute;left:0.00px;top:66.00px;width:812.00px;height:2.00px;box-sizing:border-box;background:#2e2e2e;"></div><span style="position:absolute;top:79.68px;font-size:24px;line-height:24px;color:#a3a3a3;white-space:pre;letter-spacing:0.673px;left:17.60px;">Player</span><span style="position:absolute;top:79.68px;font-size:24px;line-height:24px;color:#a3a3a3;white-space:pre;transform:scaleX(1.0874);transform-origin:1.00px 0;left:419.70px;">MIN</span><span style="position:absolute;top:79.68px;font-size:24px;line-height:24px;color:#a3a3a3;white-space:pre;transform:scaleX(1.0074);transform-origin:1.00px 0;left:499.60px;">PTS</span><span style="position:absolute;top:79.68px;font-size:24px;line-height:24px;color:#a3a3a3;white-space:pre;transform:scaleX(1.0111);transform-origin:1.00px 0;left:599.30px;">FG</span><span style="position:absolute;top:79.68px;font-size:24px;line-height:24px;color:#a3a3a3;white-space:pre;transform:scaleX(0.9379);transform-origin:1.00px 0;left:665.20px;">REB</span><span style="position:absolute;top:79.68px;font-size:24px;line-height:24px;color:#a3a3a3;white-space:pre;transform:scaleX(0.9890);transform-origin:0.00px 0;left:745.00px;">AST</span><div style="position:absolute;left:0.00px;top:116.00px;width:812.00px;height:2.00px;box-sizing:border-box;background:#222222;"></div><div style="position:absolute;left:18.00px;top:126.00px;width:36px;height:36px;border-radius:50%;background:#262626;color:#a8a8a8;font-weight:700;font-size:17.5px;line-height:38px;display:flex;justify-content:center;white-space:nowrap"><span style="display:inline-block;transform:scaleX(1.06)">FR</span></div><span style="position:absolute;top:131.68px;font-size:24px;line-height:24px;color:#f2f2f2;white-space:pre;-webkit-text-stroke:0.3px #f2f2f2;letter-spacing:-0.448px;left:65.90px;">FELIPE ROCHA</span><span style="position:absolute;top:133.07px;font-size:20px;line-height:20px;color:#8c8c8c;white-space:pre;transform:scaleX(0.9692);transform-origin:1.00px 0;left:249.60px;">C</span><div style="position:absolute;left:275.60px;top:137.80px;width:12.40px;height:12.40px;box-sizing:border-box;background:#3fb97a;border-radius:7px;"></div><div style="position:absolute;left:301.00px;top:139.70px;width:8.60px;height:8.60px;box-sizing:border-box;background:#9a9a9a;border-radius:5px;"></div><span style="position:absolute;top:133.47px;font-size:20px;line-height:20px;color:#d0d0d0;white-space:pre;letter-spacing:1.244px;left:411.10px;">29:55</span><span style="position:absolute;top:131.38px;font-size:24px;line-height:24px;color:#f2f2f2;white-space:pre;-webkit-text-stroke:0.3px #f2f2f2;transform:scaleX(1.1086);transform-origin:1.00px 0;left:516.50px;">20</span><span style="position:absolute;top:133.47px;font-size:20px;line-height:20px;color:#d0d0d0;white-space:pre;letter-spacing:3.481px;left:580.95px;">7-14</span><span style="position:absolute;top:131.38px;font-size:24px;line-height:24px;color:#f2f2f2;white-space:pre;-webkit-text-stroke:0.3px #f2f2f2;transform:scaleX(1.0538);transform-origin:0.00px 0;left:696.90px;">5</span><span style="position:absolute;top:131.38px;font-size:24px;line-height:24px;color:#f2f2f2;white-space:pre;-webkit-text-stroke:0.3px #f2f2f2;transform:scaleX(1.0538);transform-origin:0.00px 0;left:777.80px;">3</span><div style="position:absolute;left:0.00px;top:170.00px;width:812.00px;height:2.00px;box-sizing:border-box;background:#1e1e1e;"></div><div style="position:absolute;left:18.00px;top:180.00px;width:36px;height:36px;border-radius:50%;background:#262626;color:#a8a8a8;font-weight:700;font-size:17.5px;line-height:38px;display:flex;justify-content:center;white-space:nowrap"><span style="display:inline-block;transform:scaleX(1.06)">RW</span></div><span style="position:absolute;top:185.68px;font-size:24px;line-height:24px;color:#f2f2f2;white-space:pre;-webkit-text-stroke:0.3px #f2f2f2;letter-spacing:-0.431px;left:65.90px;">ROBERTO WALKER</span><span style="position:absolute;top:187.07px;font-size:20px;line-height:20px;color:#8c8c8c;white-space:pre;transform:scaleX(0.9367);transform-origin:1.00px 0;left:297.50px;">PF</span><div style="position:absolute;left:333.70px;top:191.80px;width:12.40px;height:12.40px;box-sizing:border-box;background:#3fb97a;border-radius:7px;"></div><div style="position:absolute;left:359.10px;top:193.70px;width:8.60px;height:8.60px;box-sizing:border-box;background:#9a9a9a;border-radius:5px;"></div><span style="position:absolute;top:187.47px;font-size:20px;line-height:20px;color:#d0d0d0;white-space:pre;letter-spacing:1.244px;left:411.10px;">29:14</span><span style="position:absolute;top:185.38px;font-size:24px;line-height:24px;color:#f2f2f2;white-space:pre;-webkit-text-stroke:0.3px #f2f2f2;transform:scaleX(1.1086);transform-origin:1.00px 0;left:516.50px;">20</span><span style="position:absolute;top:187.47px;font-size:20px;line-height:20px;color:#d0d0d0;white-space:pre;letter-spacing:4.558px;left:593.40px;">7-9</span><span style="position:absolute;top:185.38px;font-size:24px;line-height:24px;color:#f2f2f2;white-space:pre;-webkit-text-stroke:0.3px #f2f2f2;transform:scaleX(1.0538);transform-origin:0.00px 0;left:696.90px;">3</span><span style="position:absolute;top:185.38px;font-size:24px;line-height:24px;color:#f2f2f2;white-space:pre;-webkit-text-stroke:0.3px #f2f2f2;transform:scaleX(1.0538);transform-origin:0.00px 0;left:777.80px;">3</span><div style="position:absolute;left:0.00px;top:224.00px;width:812.00px;height:2.00px;box-sizing:border-box;background:#1e1e1e;"></div><div style="position:absolute;left:18.00px;top:234.00px;width:36px;height:36px;border-radius:50%;background:#262626;color:#a8a8a8;font-weight:700;font-size:17.5px;line-height:38px;display:flex;justify-content:center;white-space:nowrap"><span style="display:inline-block;transform:scaleX(1.06)">BH</span></div><span style="position:absolute;top:239.68px;font-size:24px;line-height:24px;color:#f2f2f2;white-space:pre;-webkit-text-stroke:0.3px #f2f2f2;letter-spacing:0.132px;left:65.90px;">BRAYLON HUME</span><span style="position:absolute;top:241.07px;font-size:20px;line-height:20px;color:#8c8c8c;white-space:pre;transform:scaleX(0.9280);transform-origin:0.00px 0;left:270.20px;">SG</span><div style="position:absolute;left:308.90px;top:245.80px;width:12.40px;height:12.40px;box-sizing:border-box;background:#3fb97a;border-radius:7px;"></div><div style="position:absolute;left:334.30px;top:247.70px;width:8.60px;height:8.60px;box-sizing:border-box;background:#9a9a9a;border-radius:5px;"></div><span style="position:absolute;top:241.47px;font-size:20px;line-height:20px;color:#d0d0d0;white-space:pre;letter-spacing:1.244px;left:411.10px;">27:37</span><span style="position:absolute;top:239.38px;font-size:24px;line-height:24px;color:#f2f2f2;white-space:pre;-webkit-text-stroke:0.3px #f2f2f2;transform:scaleX(1.1417);transform-origin:1.00px 0;left:530.90px;">9</span><span style="position:absolute;top:241.47px;font-size:20px;line-height:20px;color:#d0d0d0;white-space:pre;letter-spacing:4.058px;left:594.40px;">4-6</span><span style="position:absolute;top:239.38px;font-size:24px;line-height:24px;color:#f2f2f2;white-space:pre;-webkit-text-stroke:0.3px #f2f2f2;transform:scaleX(1.0538);transform-origin:0.00px 0;left:696.90px;">0</span><span style="position:absolute;top:239.38px;font-size:24px;line-height:24px;color:#f2f2f2;white-space:pre;-webkit-text-stroke:0.3px #f2f2f2;transform:scaleX(1.0538);transform-origin:0.00px 0;left:777.80px;">3</span><div style="position:absolute;left:0.00px;top:278.00px;width:812.00px;height:2.00px;box-sizing:border-box;background:#1e1e1e;"></div><div style="position:absolute;left:18.00px;top:288.00px;width:36px;height:36px;border-radius:50%;background:#262626;color:#a8a8a8;font-weight:700;font-size:17.5px;line-height:38px;display:flex;justify-content:center;white-space:nowrap"><span style="display:inline-block;transform:scaleX(1.06)">LM</span></div><span style="position:absolute;top:293.68px;font-size:24px;line-height:24px;color:#f2f2f2;white-space:pre;-webkit-text-stroke:0.3px #f2f2f2;letter-spacing:-0.092px;left:65.90px;">LUCA MORETTI</span><span style="position:absolute;top:295.07px;font-size:20px;line-height:20px;color:#8c8c8c;white-space:pre;transform:scaleX(0.8998);transform-origin:0.00px 0;left:255.50px;">SF</span><div style="position:absolute;left:290.70px;top:299.80px;width:12.40px;height:12.40px;box-sizing:border-box;background:#3fb97a;border-radius:7px;"></div><span style="position:absolute;top:295.47px;font-size:20px;line-height:20px;color:#d0d0d0;white-space:pre;letter-spacing:1.244px;left:411.10px;">25:10</span><span style="position:absolute;top:293.38px;font-size:24px;line-height:24px;color:#f2f2f2;white-space:pre;-webkit-text-stroke:0.3px #f2f2f2;transform:scaleX(1.1417);transform-origin:1.00px 0;left:530.90px;">8</span><span style="position:absolute;top:295.47px;font-size:20px;line-height:20px;color:#d0d0d0;white-space:pre;letter-spacing:4.058px;left:594.40px;">3-7</span><span style="position:absolute;top:293.38px;font-size:24px;line-height:24px;color:#f2f2f2;white-space:pre;-webkit-text-stroke:0.3px #f2f2f2;transform:scaleX(1.1417);transform-origin:1.00px 0;left:695.90px;">2</span><span style="position:absolute;top:293.38px;font-size:24px;line-height:24px;color:#f2f2f2;white-space:pre;-webkit-text-stroke:0.3px #f2f2f2;transform:scaleX(1.1417);transform-origin:1.00px 0;left:776.80px;">2</span><div style="position:absolute;left:0.00px;top:332.00px;width:812.00px;height:2.00px;box-sizing:border-box;background:#1e1e1e;"></div></div></div><div style="position:absolute;left:994.67px;top:620.00px;width:810.66px;height:1080.00px;box-sizing:border-box;background:#141414;border:2px solid #2e2e2e;border-radius:16px;"></div><span style="position:absolute;top:641.18px;font-size:24px;line-height:24px;color:#b5b5b5;white-space:pre;letter-spacing:0.963px;left:1020.00px;">Play-by-Play</span><div style="position:absolute;left:996.67px;top:686.00px;width:806.66px;height:2.00px;box-sizing:border-box;background:#2e2e2e;"></div><div style="position:absolute;left:1020.67px;top:704.00px;width:758.66px;height:64.00px;box-sizing:border-box;background:#1c1c1c;"></div><div style="position:absolute;left:1020.67px;top:768.00px;width:758.66px;height:2.00px;box-sizing:border-box;background:#242424;"></div><span style="position:absolute;top:721.27px;font-size:20px;line-height:20px;color:#a3a3a3;white-space:pre;letter-spacing:1.360px;left:1022.10px;">4th</span><span style="position:absolute;top:721.27px;font-size:20px;line-height:20px;color:#a3a3a3;white-space:pre;letter-spacing:1.319px;left:1061.00px;">12:00</span><div style="position:absolute;left:1133.00px;top:716.00px;width:40px;height:40px;border-radius:50%;background:#262626;color:#a8a8a8;font-weight:700;font-size:18px;line-height:42px;display:flex;justify-content:center;white-space:nowrap"><span style="display:inline-block;transform:scaleX(1.06)">MM</span></div><div style="position:absolute;left:1189.00px;top:718.00px;width:36px;height:36px;border-radius:50%;background:#262626;color:#a8a8a8;font-weight:700;font-size:17px;line-height:38px;display:flex;justify-content:center;white-space:nowrap"><span style="display:inline-block;transform:scaleX(1.06)">P</span></div><span style="position:absolute;top:723.18px;font-size:24px;line-height:24px;color:#f2f2f2;white-space:pre;letter-spacing:0.104px;left:1240.90px;">MIKEY MOZZARELLA fouls PLAYER-1758</span><div style="position:absolute;left:1020.67px;top:826.00px;width:758.66px;height:2.00px;box-sizing:border-box;background:#242424;"></div><span style="position:absolute;top:787.27px;font-size:20px;line-height:20px;color:#a3a3a3;white-space:pre;letter-spacing:0.808px;left:1022.10px;">3rd</span><span style="position:absolute;top:787.27px;font-size:20px;line-height:20px;color:#a3a3a3;white-space:pre;letter-spacing:1.166px;left:1062.00px;">0:00</span><span style="position:absolute;top:785.18px;font-size:24px;line-height:24px;color:#f2f2f2;white-space:pre;letter-spacing:0.751px;left:1121.00px;">End of Q3. Score: 92-92</span><div style="position:absolute;left:1020.67px;top:892px;width:758.66px;height:0;border-top:2px dashed #212121"></div><span style="position:absolute;top:845.27px;font-size:20px;line-height:20px;color:#a3a3a3;white-space:pre;letter-spacing:0.808px;left:1022.10px;">3rd</span><span style="position:absolute;top:845.27px;font-size:20px;line-height:20px;color:#a3a3a3;white-space:pre;letter-spacing:1.166px;left:1062.00px;">0:00</span><div style="position:absolute;left:1121.00px;top:840.00px;width:40px;height:40px;border-radius:50%;background:#262626;color:#a8a8a8;font-weight:700;font-size:18px;line-height:42px;display:flex;justify-content:center;white-space:nowrap"><span style="display:inline-block;transform:scaleX(1.06)">AI</span></div><div style="position:absolute;left:1177.00px;top:842.00px;width:36px;height:36px;border-radius:50%;background:#262626;color:#a8a8a8;font-weight:700;font-size:17px;line-height:38px;display:flex;justify-content:center;white-space:nowrap"><span style="display:inline-block;transform:scaleX(1.06)">MM</span></div><span style="position:absolute;top:847.18px;font-size:24px;line-height:24px;color:#a3a3a3;white-space:pre;font-style:italic;letter-spacing:0.143px;left:1232.70px;">A I HORFORD checks in for MARCO MULLER</span><div style="position:absolute;left:1020.67px;top:982px;width:758.66px;height:0;border-top:2px dashed #212121"></div><span style="position:absolute;top:911.27px;font-size:20px;line-height:20px;color:#a3a3a3;white-space:pre;letter-spacing:0.808px;left:1022.10px;">3rd</span><span style="position:absolute;top:911.27px;font-size:20px;line-height:20px;color:#a3a3a3;white-space:pre;letter-spacing:1.166px;left:1062.00px;">0:00</span><div style="position:absolute;left:1121.00px;top:918.00px;width:40px;height:40px;border-radius:50%;background:#262626;color:#a8a8a8;font-weight:700;font-size:18px;line-height:42px;display:flex;justify-content:center;white-space:nowrap"><span style="display:inline-block;transform:scaleX(1.06)">MM</span></div><div style="position:absolute;left:1177.00px;top:920.00px;width:36px;height:36px;border-radius:50%;background:#262626;color:#a8a8a8;font-weight:700;font-size:17px;line-height:38px;display:flex;justify-content:center;white-space:nowrap"><span style="display:inline-block;transform:scaleX(1.06)">AI</span></div><span style="position:absolute;top:909.18px;font-size:24px;line-height:24px;color:#a3a3a3;white-space:pre;font-style:italic;letter-spacing:0.336px;left:1230.70px;">MIKEY MOZZARELLA checks in for A I</span><span style="position:absolute;top:941.18px;font-size:24px;line-height:24px;color:#a3a3a3;white-space:pre;font-style:italic;letter-spacing:-0.882px;left:1230.70px;">HORFORD</span><div style="position:absolute;left:1020.67px;top:1072px;width:758.66px;height:0;border-top:2px dashed #212121"></div><span style="position:absolute;top:1001.27px;font-size:20px;line-height:20px;color:#a3a3a3;white-space:pre;letter-spacing:0.808px;left:1022.10px;">3rd</span><span style="position:absolute;top:1001.27px;font-size:20px;line-height:20px;color:#a3a3a3;white-space:pre;letter-spacing:1.166px;left:1062.00px;">0:00</span><div style="position:absolute;left:1121.00px;top:1008.00px;width:39px;height:40px;border-radius:50%;background:#262626;color:#a8a8a8;font-weight:700;font-size:18px;line-height:42px;display:flex;justify-content:center;white-space:nowrap"><span style="display:inline-block;transform:scaleX(1.06)">HA</span></div><div style="position:absolute;left:1176.50px;top:1010.00px;width:34.0px;height:36px;border-radius:50%;background:#262626;color:#a8a8a8;font-weight:700;font-size:17px;line-height:38px;display:flex;justify-content:center;white-space:nowrap"><span style="display:inline-block;transform:scaleX(1.06)">MM</span></div><span style="position:absolute;top:999.18px;font-size:24px;line-height:24px;color:#a3a3a3;white-space:pre;font-style:italic;letter-spacing:0.212px;left:1229.00px;">HENRIK ALVES checks in for MIKEY</span><span style="position:absolute;top:1031.18px;font-size:24px;line-height:24px;color:#a3a3a3;white-space:pre;font-style:italic;letter-spacing:-0.136px;left:1229.00px;">MOZZARELLA</span><div style="position:absolute;left:1020.67px;top:1162px;width:758.66px;height:0;border-top:2px dashed #212121"></div><span style="position:absolute;top:1091.27px;font-size:20px;line-height:20px;color:#a3a3a3;white-space:pre;letter-spacing:0.808px;left:1022.10px;">3rd</span><span style="position:absolute;top:1091.27px;font-size:20px;line-height:20px;color:#a3a3a3;white-space:pre;letter-spacing:1.166px;left:1062.00px;">0:00</span><div style="position:absolute;left:1121.00px;top:1098.00px;width:38px;height:40px;border-radius:50%;background:#262626;color:#a8a8a8;font-weight:700;font-size:18px;line-height:42px;display:flex;justify-content:center;white-space:nowrap"><span style="display:inline-block;transform:scaleX(1.06)">RW</span></div><div style="position:absolute;left:1175.00px;top:1100.00px;width:34px;height:36px;border-radius:50%;background:#262626;color:#a8a8a8;font-weight:700;font-size:17px;line-height:38px;display:flex;justify-content:center;white-space:nowrap"><span style="display:inline-block;transform:scaleX(1.06)">DS</span></div><span style="position:absolute;top:1089.18px;font-size:24px;line-height:24px;color:#a3a3a3;white-space:pre;font-style:italic;letter-spacing:0.061px;left:1226.70px;">ROBERTO WALKER checks in for DENNIS</span><span style="position:absolute;top:1121.18px;font-size:24px;line-height:24px;color:#a3a3a3;white-space:pre;font-style:italic;letter-spacing:-0.947px;left:1226.70px;">SHRODER</span><div style="position:absolute;left:1020.67px;top:1228px;width:758.66px;height:0;border-top:2px dashed #212121"></div><span style="position:absolute;top:1181.27px;font-size:20px;line-height:20px;color:#a3a3a3;white-space:pre;letter-spacing:0.808px;left:1022.10px;">3rd</span><span style="position:absolute;top:1181.27px;font-size:20px;line-height:20px;color:#a3a3a3;white-space:pre;letter-spacing:1.166px;left:1062.00px;">0:00</span><div style="position:absolute;left:1121.00px;top:1176.00px;width:40px;height:40px;border-radius:50%;background:#262626;color:#a8a8a8;font-weight:700;font-size:18px;line-height:42px;display:flex;justify-content:center;white-space:nowrap"><span style="display:inline-block;transform:scaleX(1.06)">P</span></div><div style="position:absolute;left:1177.00px;top:1178.00px;width:36px;height:36px;border-radius:50%;background:#262626;color:#a8a8a8;font-weight:700;font-size:17px;line-height:38px;display:flex;justify-content:center;white-space:nowrap"><span style="display:inline-block;transform:scaleX(1.06)">RW</span></div><span style="position:absolute;top:1183.18px;font-size:24px;line-height:24px;color:#a3a3a3;white-space:pre;font-style:italic;letter-spacing:0.071px;left:1231.10px;">PLAYER-1758 checks in for ROBERTO WALKER</span><div style="position:absolute;left:1020.67px;top:1294px;width:758.66px;height:0;border-top:2px dashed #212121"></div><span style="position:absolute;top:1247.27px;font-size:20px;line-height:20px;color:#a3a3a3;white-space:pre;letter-spacing:0.808px;left:1022.10px;">3rd</span><span style="position:absolute;top:1247.27px;font-size:20px;line-height:20px;color:#a3a3a3;white-space:pre;letter-spacing:1.166px;left:1062.00px;">0:00</span><div style="position:absolute;left:1121.00px;top:1242.00px;width:40px;height:40px;border-radius:50%;background:#262626;color:#a8a8a8;font-weight:700;font-size:18px;line-height:42px;display:flex;justify-content:center;white-space:nowrap"><span style="display:inline-block;transform:scaleX(1.06)">BH</span></div><div style="position:absolute;left:1177.00px;top:1244.00px;width:36px;height:36px;border-radius:50%;background:#262626;color:#a8a8a8;font-weight:700;font-size:17px;line-height:38px;display:flex;justify-content:center;white-space:nowrap"><span style="display:inline-block;transform:scaleX(1.06)">LM</span></div><span style="position:absolute;top:1249.18px;font-size:24px;line-height:24px;color:#a3a3a3;white-space:pre;font-style:italic;letter-spacing:0.313px;left:1231.10px;">BRAYLON HUME checks in for LUCA MORETTI</span><div style="position:absolute;left:1020.67px;top:1384.00px;width:758.66px;height:2.00px;box-sizing:border-box;background:#242424;"></div><span style="position:absolute;top:1313.27px;font-size:20px;line-height:20px;color:#a3a3a3;white-space:pre;letter-spacing:0.808px;left:1022.10px;">3rd</span><span style="position:absolute;top:1313.27px;font-size:20px;line-height:20px;color:#a3a3a3;white-space:pre;letter-spacing:1.166px;left:1062.00px;">0:09</span><div style="position:absolute;left:1121.00px;top:1320.00px;width:25px;height:40px;border-radius:50%;background:#262626;color:#a8a8a8;font-weight:700;font-size:18px;line-height:42px;display:flex;justify-content:center;white-space:nowrap"><span style="display:inline-block;transform:scaleX(1.06)">AI</span></div><div style="position:absolute;left:1162.00px;top:1322.00px;width:27px;height:36px;border-radius:50%;background:#262626;color:#a8a8a8;font-weight:700;font-size:17px;line-height:38px;display:flex;justify-content:center;white-space:nowrap"><span style="display:inline-block;transform:scaleX(1.06)">XH</span></div><span style="position:absolute;top:1311.18px;font-size:24px;line-height:24px;color:#f2f2f2;white-space:pre;letter-spacing:0.487px;left:1205.20px;">A I HORFORD makes a three-pointer from 25</span><span style="position:absolute;top:1343.18px;font-size:24px;line-height:24px;color:#f2f2f2;white-space:pre;letter-spacing:0.348px;left:1205.20px;">feet (assist: XAVIER HAWK)</span><div style="position:absolute;left:1729.00px;top:1308.00px;width:50.00px;height:38.00px;box-sizing:border-box;background:#1c3a2c;border-radius:8px;"></div><span style="position:absolute;top:1316.38px;font-size:22px;line-height:22px;color:#38a872;white-space:pre;font-weight:700;left:1741.58px;">+3</span><div style="position:absolute;left:1020.67px;top:1450px;width:758.66px;height:0;border-top:2px dashed #212121"></div><span style="position:absolute;top:1403.27px;font-size:20px;line-height:20px;color:#a3a3a3;white-space:pre;letter-spacing:0.808px;left:1022.10px;">3rd</span><span style="position:absolute;top:1403.27px;font-size:20px;line-height:20px;color:#a3a3a3;white-space:pre;letter-spacing:1.166px;left:1062.00px;">0:09</span><div style="position:absolute;left:1121.00px;top:1398.00px;width:40px;height:40px;border-radius:50%;background:#262626;color:#a8a8a8;font-weight:700;font-size:18px;line-height:42px;display:flex;justify-content:center;white-space:nowrap"><span style="display:inline-block;transform:scaleX(1.06)">AI</span></div><div style="position:absolute;left:1177.00px;top:1400.00px;width:36px;height:36px;border-radius:50%;background:#262626;color:#a8a8a8;font-weight:700;font-size:17px;line-height:38px;display:flex;justify-content:center;white-space:nowrap"><span style="display:inline-block;transform:scaleX(1.06)">HA</span></div><span style="position:absolute;top:1405.18px;font-size:24px;line-height:24px;color:#a3a3a3;white-space:pre;font-style:italic;letter-spacing:0.063px;left:1233.10px;">A I HORFORD checks in for HENRIK ALVES</span><div style="position:absolute;left:1020.67px;top:1540px;width:758.66px;height:0;border-top:2px dashed #212121"></div><span style="position:absolute;top:1469.27px;font-size:20px;line-height:20px;color:#a3a3a3;white-space:pre;letter-spacing:0.808px;left:1022.10px;">3rd</span><span style="position:absolute;top:1469.27px;font-size:20px;line-height:20px;color:#a3a3a3;white-space:pre;letter-spacing:1.166px;left:1062.00px;">0:09</span><div style="position:absolute;left:1121.00px;top:1476.00px;width:40px;height:40px;border-radius:50%;background:#262626;color:#a8a8a8;font-weight:700;font-size:18px;line-height:42px;display:flex;justify-content:center;white-space:nowrap"><span style="display:inline-block;transform:scaleX(1.06)">MM</span></div><div style="position:absolute;left:1177.00px;top:1478.00px;width:36px;height:36px;border-radius:50%;background:#262626;color:#a8a8a8;font-weight:700;font-size:17px;line-height:38px;display:flex;justify-content:center;white-space:nowrap"><span style="display:inline-block;transform:scaleX(1.06)">AI</span></div><span style="position:absolute;top:1467.18px;font-size:24px;line-height:24px;color:#a3a3a3;white-space:pre;font-style:italic;letter-spacing:0.345px;left:1231.10px;">MIKEY MOZZARELLA checks in for A I</span><span style="position:absolute;top:1499.18px;font-size:24px;line-height:24px;color:#a3a3a3;white-space:pre;font-style:italic;letter-spacing:-0.882px;left:1231.10px;">HORFORD</span><div style="position:absolute;left:1020.67px;top:1630px;width:758.66px;height:0;border-top:2px dashed #212121"></div><span style="position:absolute;top:1559.27px;font-size:20px;line-height:20px;color:#a3a3a3;white-space:pre;letter-spacing:0.808px;left:1022.10px;">3rd</span><span style="position:absolute;top:1559.27px;font-size:20px;line-height:20px;color:#a3a3a3;white-space:pre;letter-spacing:1.166px;left:1062.00px;">0:09</span><div style="position:absolute;left:1121.00px;top:1566.00px;width:40px;height:40px;border-radius:50%;background:#262626;color:#a8a8a8;font-weight:700;font-size:18px;line-height:42px;display:flex;justify-content:center;white-space:nowrap"><span style="display:inline-block;transform:scaleX(1.06)">XH</span></div><div style="position:absolute;left:1177.00px;top:1568.00px;width:36px;height:36px;border-radius:50%;background:#262626;color:#a8a8a8;font-weight:700;font-size:17px;line-height:38px;display:flex;justify-content:center;white-space:nowrap"><span style="display:inline-block;transform:scaleX(1.06)">MM</span></div><span style="position:absolute;top:1557.18px;font-size:24px;line-height:24px;color:#a3a3a3;white-space:pre;font-style:italic;letter-spacing:0.108px;left:1232.10px;">XAVIER HAWK checks in for MIKEY</span><span style="position:absolute;top:1589.18px;font-size:24px;line-height:24px;color:#a3a3a3;white-space:pre;font-style:italic;letter-spacing:-0.136px;left:1231.10px;">MOZZARELLA</span><div style="position:absolute;left:1837.33px;top:620.00px;width:810.67px;height:596.00px;box-sizing:border-box;background:#141414;border:2px solid #2e2e2e;border-radius:16px;"></div><div style="position:absolute;left:1863.00px;top:646.00px;width:414.00px;height:64.00px;box-sizing:border-box;background:#262626;border-radius:12px;"></div><div style="position:absolute;left:1867.00px;top:650.00px;width:222.00px;height:56.00px;box-sizing:border-box;background:#0a0a0a;border-radius:9px;"></div><span style="position:absolute;top:666.18px;font-size:24px;line-height:24px;color:#f2f2f2;white-space:pre;-webkit-text-stroke:0.5px #f2f2f2;letter-spacing:0.860px;left:1892.20px;">Win Probability</span><span style="position:absolute;top:666.18px;font-size:24px;line-height:24px;color:#a3a3a3;white-space:pre;letter-spacing:0.467px;left:2120.80px;">Game Flow</span><svg style="position:absolute;left:0;top:0" width="2806" height="1564" viewBox="0 0 2806 1564"><defs><clipPath id="up"><rect x="1900" y="700" width="720" height="244"/></clipPath><clipPath id="dn"><rect x="1900" y="944" width="720" height="300"/></clipPath></defs><line x1="2147.67" y1="758" x2="2147.67" y2="1129" stroke="#3a3a3a" stroke-width="2"/><line x1="2376.33" y1="758" x2="2376.33" y2="1129" stroke="#3a3a3a" stroke-width="2"/><line x1="2605" y1="758" x2="2605" y2="1129" stroke="#3a3a3a" stroke-width="2"/><polygon points="1919.8,944 1919.8,936.4 1924.0,943.4 1928.2,936.4 1934.5,944.1 1941.4,936.8 1947.0,936.4 1953.3,929.4 1962.4,929.4 1965.9,936.8 1970.1,926.6 1978.5,925.2 1982.7,932.2 1986.4,921.0 1990.4,932.2 1993.9,932.9 1997.3,940.6 2002.2,933.6 2007.8,932.9 2014.8,924.5 2020.4,921.7 2026.0,921.4 2026.0,914.0 2033.0,914.0 2033.0,921.4 2036.5,922.0 2039.3,932.9 2042.8,932.9 2042.8,925.2 2047.7,925.6 2056.0,939.9 2062.3,930.8 2067.9,928.0 2072.1,927.3 2076.3,921.0 2082.6,929.4 2085.4,914.0 2090.3,925.2 2095.2,914.0 2098.7,925.2 2105.0,925.2 2107.7,910.5 2119.6,910.5 2123.1,925.2 2130.1,925.2 2137.1,914.0 2143.4,925.2 2145.9,909.8 2147.6,909.8 2147.9,917.5 2156.7,917.5 2156.7,929.4 2161.6,917.5 2175.5,917.5 2179.0,932.9 2183.9,932.9 2184.6,920.3 2190.9,917.5 2195.1,917.5 2198.6,929.4 2203.5,917.5 2224.4,917.5 2226.1,932.9 2229.3,917.5 2234.9,914.0 2235.2,928.7 2240.5,928.7 2247.5,936.4 2256.6,936.4 2256.6,947.6 2262.8,948.3 2264.9,957.3 2269.1,962.2 2278.2,962.2 2278.2,955.2 2281.7,969.9 2286.6,969.9 2286.6,958.7 2293.5,958.7 2293.5,969.9 2307.5,969.9 2311.0,980.4 2317.3,988.1 2321.5,989.5 2328.5,997.9 2332.7,1000.0 2347.3,1000.0 2347.3,984.6 2353.6,977.6 2361.7,977.6 2362.0,961.5 2362.3,977.6 2375.4,977.6 2375.7,993.0 2387.9,993.0 2387.9,1004.2 2394.2,988.8 2399.1,985.3 2399.5,999.3 2405.3,1003.5 2406.0,992.3 2410.9,992.3 2411.6,1003.5 2413.7,1003.9 2417.2,1015.3 2422.8,1022.3 2423.5,1011.1 2431.2,1011.1 2431.2,1000.0 2436.1,1000.0 2441.7,1003.5 2445.9,1003.5 2445.9,988.8 2449.4,992.3 2459.1,992.3 2459.1,1003.5 2468.2,1003.5 2474.5,993.0 2474.5,1007.7 2483.6,1007.7 2483.6,992.3 2488.5,992.3 2488.5,1007.7 2503.9,1007.7 2508.8,996.5 2521.3,995.8 2528.3,992.7 2538.1,992.3 2538.1,976.9 2543.7,970.6 2546.5,955.2 2553.5,954.5 2553.5,937.1 2559.1,929.4 2567.5,928.7 2576.5,895.9 2589.8,895.9 2591.9,910.5 2602.4,910.5 2602.4,937.1 2602.4,944" fill="#263f33" clip-path="url(#up)"/><polygon points="1919.8,944 1919.8,936.4 1924.0,943.4 1928.2,936.4 1934.5,944.1 1941.4,936.8 1947.0,936.4 1953.3,929.4 1962.4,929.4 1965.9,936.8 1970.1,926.6 1978.5,925.2 1982.7,932.2 1986.4,921.0 1990.4,932.2 1993.9,932.9 1997.3,940.6 2002.2,933.6 2007.8,932.9 2014.8,924.5 2020.4,921.7 2026.0,921.4 2026.0,914.0 2033.0,914.0 2033.0,921.4 2036.5,922.0 2039.3,932.9 2042.8,932.9 2042.8,925.2 2047.7,925.6 2056.0,939.9 2062.3,930.8 2067.9,928.0 2072.1,927.3 2076.3,921.0 2082.6,929.4 2085.4,914.0 2090.3,925.2 2095.2,914.0 2098.7,925.2 2105.0,925.2 2107.7,910.5 2119.6,910.5 2123.1,925.2 2130.1,925.2 2137.1,914.0 2143.4,925.2 2145.9,909.8 2147.6,909.8 2147.9,917.5 2156.7,917.5 2156.7,929.4 2161.6,917.5 2175.5,917.5 2179.0,932.9 2183.9,932.9 2184.6,920.3 2190.9,917.5 2195.1,917.5 2198.6,929.4 2203.5,917.5 2224.4,917.5 2226.1,932.9 2229.3,917.5 2234.9,914.0 2235.2,928.7 2240.5,928.7 2247.5,936.4 2256.6,936.4 2256.6,947.6 2262.8,948.3 2264.9,957.3 2269.1,962.2 2278.2,962.2 2278.2,955.2 2281.7,969.9 2286.6,969.9 2286.6,958.7 2293.5,958.7 2293.5,969.9 2307.5,969.9 2311.0,980.4 2317.3,988.1 2321.5,989.5 2328.5,997.9 2332.7,1000.0 2347.3,1000.0 2347.3,984.6 2353.6,977.6 2361.7,977.6 2362.0,961.5 2362.3,977.6 2375.4,977.6 2375.7,993.0 2387.9,993.0 2387.9,1004.2 2394.2,988.8 2399.1,985.3 2399.5,999.3 2405.3,1003.5 2406.0,992.3 2410.9,992.3 2411.6,1003.5 2413.7,1003.9 2417.2,1015.3 2422.8,1022.3 2423.5,1011.1 2431.2,1011.1 2431.2,1000.0 2436.1,1000.0 2441.7,1003.5 2445.9,1003.5 2445.9,988.8 2449.4,992.3 2459.1,992.3 2459.1,1003.5 2468.2,1003.5 2474.5,993.0 2474.5,1007.7 2483.6,1007.7 2483.6,992.3 2488.5,992.3 2488.5,1007.7 2503.9,1007.7 2508.8,996.5 2521.3,995.8 2528.3,992.7 2538.1,992.3 2538.1,976.9 2543.7,970.6 2546.5,955.2 2553.5,954.5 2553.5,937.1 2559.1,929.4 2567.5,928.7 2576.5,895.9 2589.8,895.9 2591.9,910.5 2602.4,910.5 2602.4,937.1 2602.4,944" fill="#503b21" clip-path="url(#dn)"/><line x1="2147.67" y1="758" x2="2147.67" y2="1129" stroke="#3a3a3a" stroke-width="2" opacity="0.8"/><line x1="2376.33" y1="758" x2="2376.33" y2="1129" stroke="#3a3a3a" stroke-width="2" opacity="0.8"/><line x1="1919" y1="944" x2="2605" y2="944" stroke="#b0b0b0" stroke-width="2" stroke-dasharray="6 6"/><polyline points="1919.8,936.4 1924.0,943.4 1928.2,936.4 1934.5,944.1 1941.4,936.8 1947.0,936.4 1953.3,929.4 1962.4,929.4 1965.9,936.8 1970.1,926.6 1978.5,925.2 1982.7,932.2 1986.4,921.0 1990.4,932.2 1993.9,932.9 1997.3,940.6 2002.2,933.6 2007.8,932.9 2014.8,924.5 2020.4,921.7 2026.0,921.4 2026.0,914.0 2033.0,914.0 2033.0,921.4 2036.5,922.0 2039.3,932.9 2042.8,932.9 2042.8,925.2 2047.7,925.6 2056.0,939.9 2062.3,930.8 2067.9,928.0 2072.1,927.3 2076.3,921.0 2082.6,929.4 2085.4,914.0 2090.3,925.2 2095.2,914.0 2098.7,925.2 2105.0,925.2 2107.7,910.5 2119.6,910.5 2123.1,925.2 2130.1,925.2 2137.1,914.0 2143.4,925.2 2145.9,909.8 2147.6,909.8 2147.9,917.5 2156.7,917.5 2156.7,929.4 2161.6,917.5 2175.5,917.5 2179.0,932.9 2183.9,932.9 2184.6,920.3 2190.9,917.5 2195.1,917.5 2198.6,929.4 2203.5,917.5 2224.4,917.5 2226.1,932.9 2229.3,917.5 2234.9,914.0 2235.2,928.7 2240.5,928.7 2247.5,936.4 2256.6,936.4 2256.6,947.6 2262.8,948.3 2264.9,957.3 2269.1,962.2 2278.2,962.2 2278.2,955.2 2281.7,969.9 2286.6,969.9 2286.6,958.7 2293.5,958.7 2293.5,969.9 2307.5,969.9 2311.0,980.4 2317.3,988.1 2321.5,989.5 2328.5,997.9 2332.7,1000.0 2347.3,1000.0 2347.3,984.6 2353.6,977.6 2361.7,977.6 2362.0,961.5 2362.3,977.6 2375.4,977.6 2375.7,993.0 2387.9,993.0 2387.9,1004.2 2394.2,988.8 2399.1,985.3 2399.5,999.3 2405.3,1003.5 2406.0,992.3 2410.9,992.3 2411.6,1003.5 2413.7,1003.9 2417.2,1015.3 2422.8,1022.3 2423.5,1011.1 2431.2,1011.1 2431.2,1000.0 2436.1,1000.0 2441.7,1003.5 2445.9,1003.5 2445.9,988.8 2449.4,992.3 2459.1,992.3 2459.1,1003.5 2468.2,1003.5 2474.5,993.0 2474.5,1007.7 2483.6,1007.7 2483.6,992.3 2488.5,992.3 2488.5,1007.7 2503.9,1007.7 2508.8,996.5 2521.3,995.8 2528.3,992.7 2538.1,992.3 2538.1,976.9 2543.7,970.6 2546.5,955.2 2553.5,954.5 2553.5,937.1 2559.1,929.4 2567.5,928.7 2576.5,895.9 2589.8,895.9 2591.9,910.5 2602.4,910.5 2602.4,937.1" fill="none" stroke="#f5f5f5" stroke-width="3.2" stroke-linejoin="round" stroke-linecap="round"/><line x1="1919" y1="757" x2="1919" y2="1130.5" stroke="#7c7c7c" stroke-width="1.8"/><line x1="1918" y1="1129.5" x2="2606" y2="1129.5" stroke="#9a9a9a" stroke-width="2"/><line x1="1907" y1="758" x2="1919" y2="758" stroke="#7c7c7c" stroke-width="1.8"/><line x1="1907" y1="851" x2="1919" y2="851" stroke="#7c7c7c" stroke-width="1.8"/><line x1="1907" y1="944" x2="1919" y2="944" stroke="#7c7c7c" stroke-width="1.8"/><line x1="1907" y1="1037" x2="1919" y2="1037" stroke="#7c7c7c" stroke-width="1.8"/><line x1="1907" y1="1129.5" x2="1919" y2="1129.5" stroke="#7c7c7c" stroke-width="1.8"/></svg><span style="position:absolute;top:748.37px;font-size:20px;line-height:20px;color:#8f8f8f;white-space:pre;letter-spacing:-0.323px;left:1869.60px;">100</span><span style="position:absolute;top:841.37px;font-size:20px;line-height:20px;color:#8f8f8f;white-space:pre;transform:scaleX(1.0178);transform-origin:1.00px 0;left:1879.70px;">75</span><span style="position:absolute;top:934.37px;font-size:20px;line-height:20px;color:#8f8f8f;white-space:pre;transform:scaleX(1.0170);transform-origin:0.00px 0;left:1879.70px;">50</span><span style="position:absolute;top:1027.37px;font-size:20px;line-height:20px;color:#8f8f8f;white-space:pre;transform:scaleX(1.0415);transform-origin:1.00px 0;left:1879.20px;">25</span><span style="position:absolute;top:1119.87px;font-size:20px;line-height:20px;color:#8f8f8f;white-space:pre;transform:scaleX(1.0455);transform-origin:0.00px 0;left:1890.70px;">0</span><span style="position:absolute;top:1143.37px;font-size:20px;line-height:20px;color:#8f8f8f;white-space:pre;letter-spacing:-0.237px;left:2133.78px;">1st</span><span style="position:absolute;top:1143.37px;font-size:20px;line-height:20px;color:#8f8f8f;white-space:pre;letter-spacing:1.002px;left:2358.68px;">2nd</span><span style="position:absolute;top:1143.37px;font-size:20px;line-height:20px;color:#8f8f8f;white-space:pre;letter-spacing:0.596px;left:2590.51px;">3rd</span><span style="position:absolute;top:1202.87px;font-size:20px;line-height:20px;color:#e0a044;white-space:pre;letter-spacing:0.313px;left:1862.20px;">Nine Rakes</span><span style="position:absolute;top:1202.87px;font-size:20px;line-height:20px;color:#3cb079;white-space:pre;letter-spacing:0.652px;left:2499.60px;">First Division</span><div style="position:absolute;left:1837.33px;top:1248.00px;width:810.67px;height:452.00px;box-sizing:border-box;background:#141414;border:2px solid #2e2e2e;border-radius:16px;"></div><span style="position:absolute;top:1277.28px;font-size:24px;line-height:24px;color:#a3a3a3;white-space:pre;letter-spacing:1.019px;left:1862.70px;">Shot chart</span><span style="position:absolute;top:1328.30px;font-size:28px;line-height:28px;color:#f2f2f2;white-space:pre;font-weight:700;letter-spacing:0.113px;left:1863.70px;">Shot Chart</span><span style="position:absolute;top:1395.57px;font-size:20px;line-height:20px;color:#a3a3a3;white-space:pre;letter-spacing:0.410px;left:1863.70px;">Quarter</span><div style="position:absolute;left:1945.00px;top:1384.50px;width:59.60px;height:41.00px;box-sizing:border-box;background:#262626;border:2px solid #363636;border-radius:21px;"></div><span style="position:absolute;top:1395.57px;font-size:20px;line-height:20px;color:#f2f2f2;white-space:pre;transform:scaleX(1.0237);transform-origin:0.00px 0;left:1963.50px;">All</span><span style="position:absolute;top:1395.57px;font-size:20px;line-height:20px;color:#a3a3a3;white-space:pre;transform:scaleX(0.8924);transform-origin:0.00px 0;left:2030.80px;">Q1</span><span style="position:absolute;top:1395.57px;font-size:20px;line-height:20px;color:#a3a3a3;white-space:pre;transform:scaleX(0.9903);transform-origin:0.00px 0;left:2098.50px;">Q2</span><span style="position:absolute;top:1395.57px;font-size:20px;line-height:20px;color:#a3a3a3;white-space:pre;transform:scaleX(0.9941);transform-origin:0.00px 0;left:2170.00px;">Q3</span><span style="position:absolute;top:1395.57px;font-size:20px;line-height:20px;color:#a3a3a3;white-space:pre;transform:scaleX(1.0016);transform-origin:0.00px 0;left:2241.70px;">Q4</span><span style="position:absolute;top:1395.57px;font-size:20px;line-height:20px;color:#a3a3a3;white-space:pre;letter-spacing:0.334px;left:2313.00px;">Player</span><div style="position:absolute;left:2382.20px;top:1384.50px;width:58.50px;height:41.00px;box-sizing:border-box;background:#262626;border:2px solid #363636;border-radius:21px;"></div><span style="position:absolute;top:1395.57px;font-size:20px;line-height:20px;color:#f2f2f2;white-space:pre;transform:scaleX(1.0283);transform-origin:0.00px 0;left:2400.60px;">All</span><div style="position:absolute;left:1863.70px;top:1436.50px;width:291.60px;height:39.00px;box-sizing:border-box;border:2px solid #363636;border-radius:8px;"></div><span style="position:absolute;top:1446.07px;font-size:20px;line-height:20px;color:#f2f2f2;white-space:pre;letter-spacing:0.512px;left:1885.70px;">Select player...</span><svg style="position:absolute;left:2124.90px;top:1442.00px" width="28" height="28" viewBox="0 0 24 24" fill="none" stroke="#f2f2f2" stroke-width="2" stroke-linecap="round" stroke-linejoin="round"><path d="m6 9 6 6 6-6"/></svg><span style="position:absolute;top:1504.48px;font-size:24px;line-height:24px;color:#a3a3a3;white-space:pre;letter-spacing:0.731px;left:1878.80px;">First Division</span><span style="position:absolute;top:1504.48px;font-size:24px;line-height:24px;color:#a3a3a3;white-space:pre;letter-spacing:0.272px;left:2478.40px;">Nine Rakes</span></div></body></html>
